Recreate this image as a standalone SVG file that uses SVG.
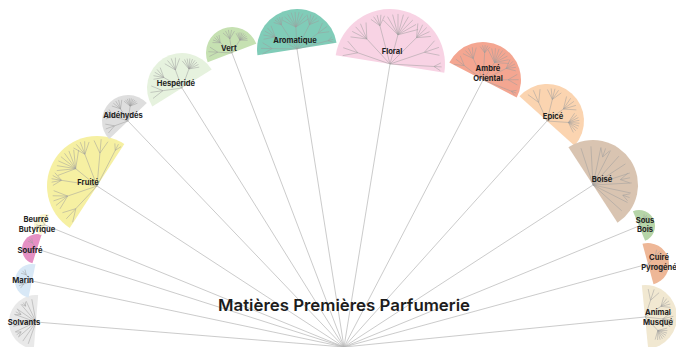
<svg xmlns="http://www.w3.org/2000/svg" xmlns:xlink="http://www.w3.org/1999/xlink" width="676" height="347" viewBox="0 0 676 347">
<style>
line{vector-effect:non-scaling-stroke}
.conn line{stroke:#b5b5b5;stroke-width:0.7}
.lbl{font-family:Inter,"Open Sans","Liberation Sans",sans-serif;font-weight:700;font-size:7.6px;fill:#1e1e1e;text-anchor:middle}
.title{font-family:Inter,"Open Sans","Liberation Sans",sans-serif;font-weight:600;font-size:16.5px;fill:#1c1c1c;text-anchor:middle}
</style>
<defs>
  <g id="f3" stroke="#9c9c9c" stroke-width="0.5"><line y2="-1" transform="rotate(-30)"/><line y2="-1"/><line y2="-1" transform="rotate(30)"/></g>
  <g id="f5" stroke="#9c9c9c" stroke-width="0.5"><line y2="-1" transform="rotate(-40)"/><line y2="-1" transform="rotate(-20)"/><line y2="-1"/><line y2="-1" transform="rotate(20)"/><line y2="-1" transform="rotate(40)"/></g>
  <g id="f9" stroke="#9c9c9c" stroke-width="0.5"><line y2="-1" transform="rotate(-60)"/><line y2="-1" transform="rotate(-45)"/><line y2="-1" transform="rotate(-30)"/><line y2="-1" transform="rotate(-15)"/><line y2="-1"/><line y2="-1" transform="rotate(15)"/><line y2="-1" transform="rotate(30)"/><line y2="-1" transform="rotate(45)"/><line y2="-1" transform="rotate(60)"/></g>
  <g id="treeA" stroke="#9c9c9c" stroke-width="0.5">
    <g transform="rotate(-80)"><line y2="-0.62"/><use xlink:href="#f3" href="#f3" transform="translate(0,-0.62) scale(0.28)"/></g>
    <g transform="rotate(-52)"><line y2="-0.62"/><use xlink:href="#f5" href="#f5" transform="translate(0,-0.62) scale(0.3)"/></g>
    <g transform="rotate(-24)"><line y2="-0.72"/><use xlink:href="#f5" href="#f5" transform="translate(0,-0.72) scale(0.2)"/></g>
    <g transform="rotate(6)"><line y2="-0.55"/><use xlink:href="#f9" href="#f9" transform="translate(0,-0.55) scale(0.38)"/></g>
    <g transform="rotate(36)"><line y2="-0.68"/><use xlink:href="#f5" href="#f5" transform="translate(0,-0.68) scale(0.26)"/></g>
    <g transform="rotate(62)"><line y2="-0.66"/><use xlink:href="#f3" href="#f3" transform="translate(0,-0.66) scale(0.28)"/></g>
    <g transform="rotate(84)"><line y2="-0.8"/><use xlink:href="#f3" href="#f3" transform="translate(0,-0.8) scale(0.14)"/></g>
  </g>
  <g id="treeB" stroke="#9c9c9c" stroke-width="0.5">
    <g transform="rotate(-66)"><line y2="-0.55"/><use xlink:href="#f3" href="#f3" transform="translate(0,-0.55) scale(0.36)"/></g>
    <g transform="rotate(-28)"><line y2="-0.6"/><use xlink:href="#f5" href="#f5" transform="translate(0,-0.6) scale(0.3)"/></g>
    <g transform="rotate(12)"><line y2="-0.55"/><use xlink:href="#f5" href="#f5" transform="translate(0,-0.55) scale(0.35)"/></g>
    <g transform="rotate(52)"><line y2="-0.58"/><use xlink:href="#f9" href="#f9" transform="translate(0,-0.58) scale(0.3)"/></g>
  </g>
  <g id="treeC" stroke="#9c9c9c" stroke-width="0.5">
    <use xlink:href="#f9" href="#f9" transform="scale(0.86)"/>
    <line y2="-0.86" transform="rotate(-75)"/><line y2="-0.86" transform="rotate(75)"/>
    <g transform="rotate(22)"><use xlink:href="#f3" href="#f3" transform="translate(0,-0.62) scale(0.22)"/></g>
    <g transform="rotate(-38)"><use xlink:href="#f3" href="#f3" transform="translate(0,-0.66) scale(0.2)"/></g>
    <g transform="rotate(52)"><use xlink:href="#f3" href="#f3" transform="translate(0,-0.7) scale(0.16)"/></g>
  </g>
  <g id="treeD" stroke="#9c9c9c" stroke-width="0.5">
    <g transform="rotate(-32)"><line y2="-0.5"/><use xlink:href="#f3" href="#f3" transform="translate(0,-0.5) scale(0.32)"/></g>
    <g transform="rotate(35)"><line y2="-0.5"/><use xlink:href="#f3" href="#f3" transform="translate(0,-0.5) scale(0.32)"/></g>
  </g>
</defs>
<rect width="676" height="347" fill="#ffffff"/>
<g id="connectors" class="conn">
  <line x1="344" y1="347" x2="36" y2="322"/>
  <line x1="344" y1="347" x2="32" y2="281"/>
  <line x1="344" y1="347" x2="37" y2="249"/>
  <line x1="344" y1="347" x2="45" y2="225"/>
  <line x1="344" y1="347" x2="97" y2="186"/>
  <line x1="344" y1="347" x2="128" y2="121"/>
  <line x1="344" y1="347" x2="182" y2="88"/>
  <line x1="344" y1="347" x2="232" y2="53"/>
  <line x1="344" y1="347" x2="297" y2="49"/>
  <line x1="344" y1="347" x2="390" y2="64"/>
  <line x1="344" y1="347" x2="483" y2="80"/>
  <line x1="344" y1="347" x2="547" y2="121"/>
  <line x1="344" y1="347" x2="593" y2="185"/>
  <line x1="344" y1="347" x2="639" y2="226"/>
  <line x1="344" y1="347" x2="648" y2="264"/>
  <line x1="344" y1="347" x2="645" y2="317"/>
</g>
<g id="n-solvants">
  <g transform="translate(36,322) rotate(-85.4)"><path d="M-27 0A27 27 0 0 1 27 0Z" fill="#e9e9e9"/><use xlink:href="#treeC" href="#treeC" transform="scale(27)"/></g>
  <text class="lbl" x="24" y="324.7">Solvants</text>
</g>
<g id="n-marin">
  <g transform="translate(32,281) rotate(-78.1)"><path d="M-17 0A17 17 0 0 1 17 0Z" fill="#d8e8f6"/><use xlink:href="#treeD" href="#treeD" transform="scale(17)"/></g>
  <text class="lbl" x="23" y="282.7">Marin</text>
</g>
<g id="n-soufre">
  <g transform="translate(37,249) rotate(-72.3)"><path d="M-15 0A15 15 0 0 1 15 0Z" fill="#e590c4"/><use xlink:href="#treeD" href="#treeD" transform="scale(15)"/></g>
  <text class="lbl" x="30" y="252.7">Soufré</text>
</g>
<g id="n-beurre">
  <g transform="translate(45,225) rotate(-67.8)"><path d="M-11 0A11 11 0 0 1 11 0Z" fill="#faf6d2"/><use xlink:href="#treeD" href="#treeD" transform="scale(11)"/></g>
  <text class="lbl" x="36" y="221.5">Beurré</text>
  <text class="lbl" x="37" y="231.5">Butyrique</text>
</g>
<g id="n-fruite">
  <g transform="translate(97,186) rotate(-56.9)"><path d="M-50 0A50 50 0 0 1 50 0Z" fill="#f6f0a2"/><use xlink:href="#treeA" href="#treeA" transform="scale(50)"/></g>
  <text class="lbl" x="88" y="184.5">Fruité</text>
</g>
<g id="n-aldehydes">
  <g transform="translate(128,121) rotate(-43.7)"><path d="M-26 0A26 26 0 0 1 26 0Z" fill="#dedede"/><use xlink:href="#treeB" href="#treeB" transform="scale(26)"/></g>
  <text class="lbl" x="123" y="117.7">Aldéhydés</text>
</g>
<g id="n-hesperide">
  <g transform="translate(182,88) rotate(-32)"><path d="M-35 0A35 35 0 0 1 35 0Z" fill="#e6f2de"/><use xlink:href="#treeB" href="#treeB" transform="scale(35)"/></g>
  <text class="lbl" x="176" y="85.7">Hespéridé</text>
</g>
<g id="n-vert">
  <g transform="translate(232,53) rotate(-20.85)"><path d="M-26 0A26 26 0 0 1 26 0Z" fill="#c6e1b2"/><use xlink:href="#treeB" href="#treeB" transform="scale(26)"/></g>
  <text class="lbl" x="229" y="50.5">Vert</text>
</g>
<g id="n-aromatique">
  <g transform="translate(297,49) rotate(-8.96)"><path d="M-40 0A40 40 0 0 1 40 0Z" fill="#80ccb8"/><use xlink:href="#treeA" href="#treeA" transform="scale(40)"/></g>
  <text class="lbl" x="295" y="42.7">Aromatique</text>
</g>
<g id="n-floral">
  <g transform="translate(390,64) rotate(9.23)"><path d="M-55 0A55 55 0 0 1 55 0Z" fill="#f8d3e4"/><use xlink:href="#treeA" href="#treeA" transform="scale(55)"/></g>
  <text class="lbl" x="392" y="53.7">Floral</text>
</g>
<g id="n-ambre">
  <g transform="translate(483,80) rotate(27.5)"><path d="M-38 0A38 38 0 0 1 38 0Z" fill="#f4a691"/><use xlink:href="#treeA" href="#treeA" transform="scale(38)"/></g>
  <text class="lbl" x="488" y="70.7">Ambré</text>
  <text class="lbl" x="488" y="80.7">Oriental</text>
</g>
<g id="n-epice">
  <g transform="translate(547,121) rotate(41.9)"><path d="M-37 0A37 37 0 0 1 37 0Z" fill="#fbd4b0"/><use xlink:href="#treeB" href="#treeB" transform="scale(37)"/></g>
  <text class="lbl" x="553" y="118.7">Epicé</text>
</g>
<g id="n-boise">
  <g transform="translate(593,185) rotate(56.95)"><path d="M-45 0A45 45 0 0 1 45 0Z" fill="#d9c4b1"/><use xlink:href="#treeC" href="#treeC" transform="scale(45)"/></g>
  <text class="lbl" x="602" y="181.7">Boisé</text>
</g>
<g id="n-sousbois">
  <g transform="translate(639,226) rotate(67.7)"><path d="M-16 0A16 16 0 0 1 16 0Z" fill="#b6d5a8"/><use xlink:href="#treeD" href="#treeD" transform="scale(16)"/></g>
  <text class="lbl" x="645" y="222.7">Sous</text>
  <text class="lbl" x="645" y="231.7">Bois</text>
</g>
<g id="n-cuire">
  <g transform="translate(648,264) rotate(74.7)"><path d="M-21 0A21 21 0 0 1 21 0Z" fill="#eeb797"/><use xlink:href="#treeD" href="#treeD" transform="scale(21)"/></g>
  <text class="lbl" x="659" y="259.7">Cuiré</text>
  <text class="lbl" x="659" y="269.7">Pyrogéné</text>
</g>
<g id="n-animal">
  <g transform="translate(645,317) rotate(84.3)"><path d="M-32 0A32 32 0 0 1 32 0Z" fill="#f1e8d1"/><use xlink:href="#treeB" href="#treeB" transform="scale(32)"/></g>
  <text class="lbl" x="658" y="314.7">Animal</text>
  <text class="lbl" x="658" y="324.7">Musqué</text>
</g>
<text id="title" class="title" x="344" y="311" textLength="252" lengthAdjust="spacingAndGlyphs">Matières Premières Parfumerie</text>
</svg>
